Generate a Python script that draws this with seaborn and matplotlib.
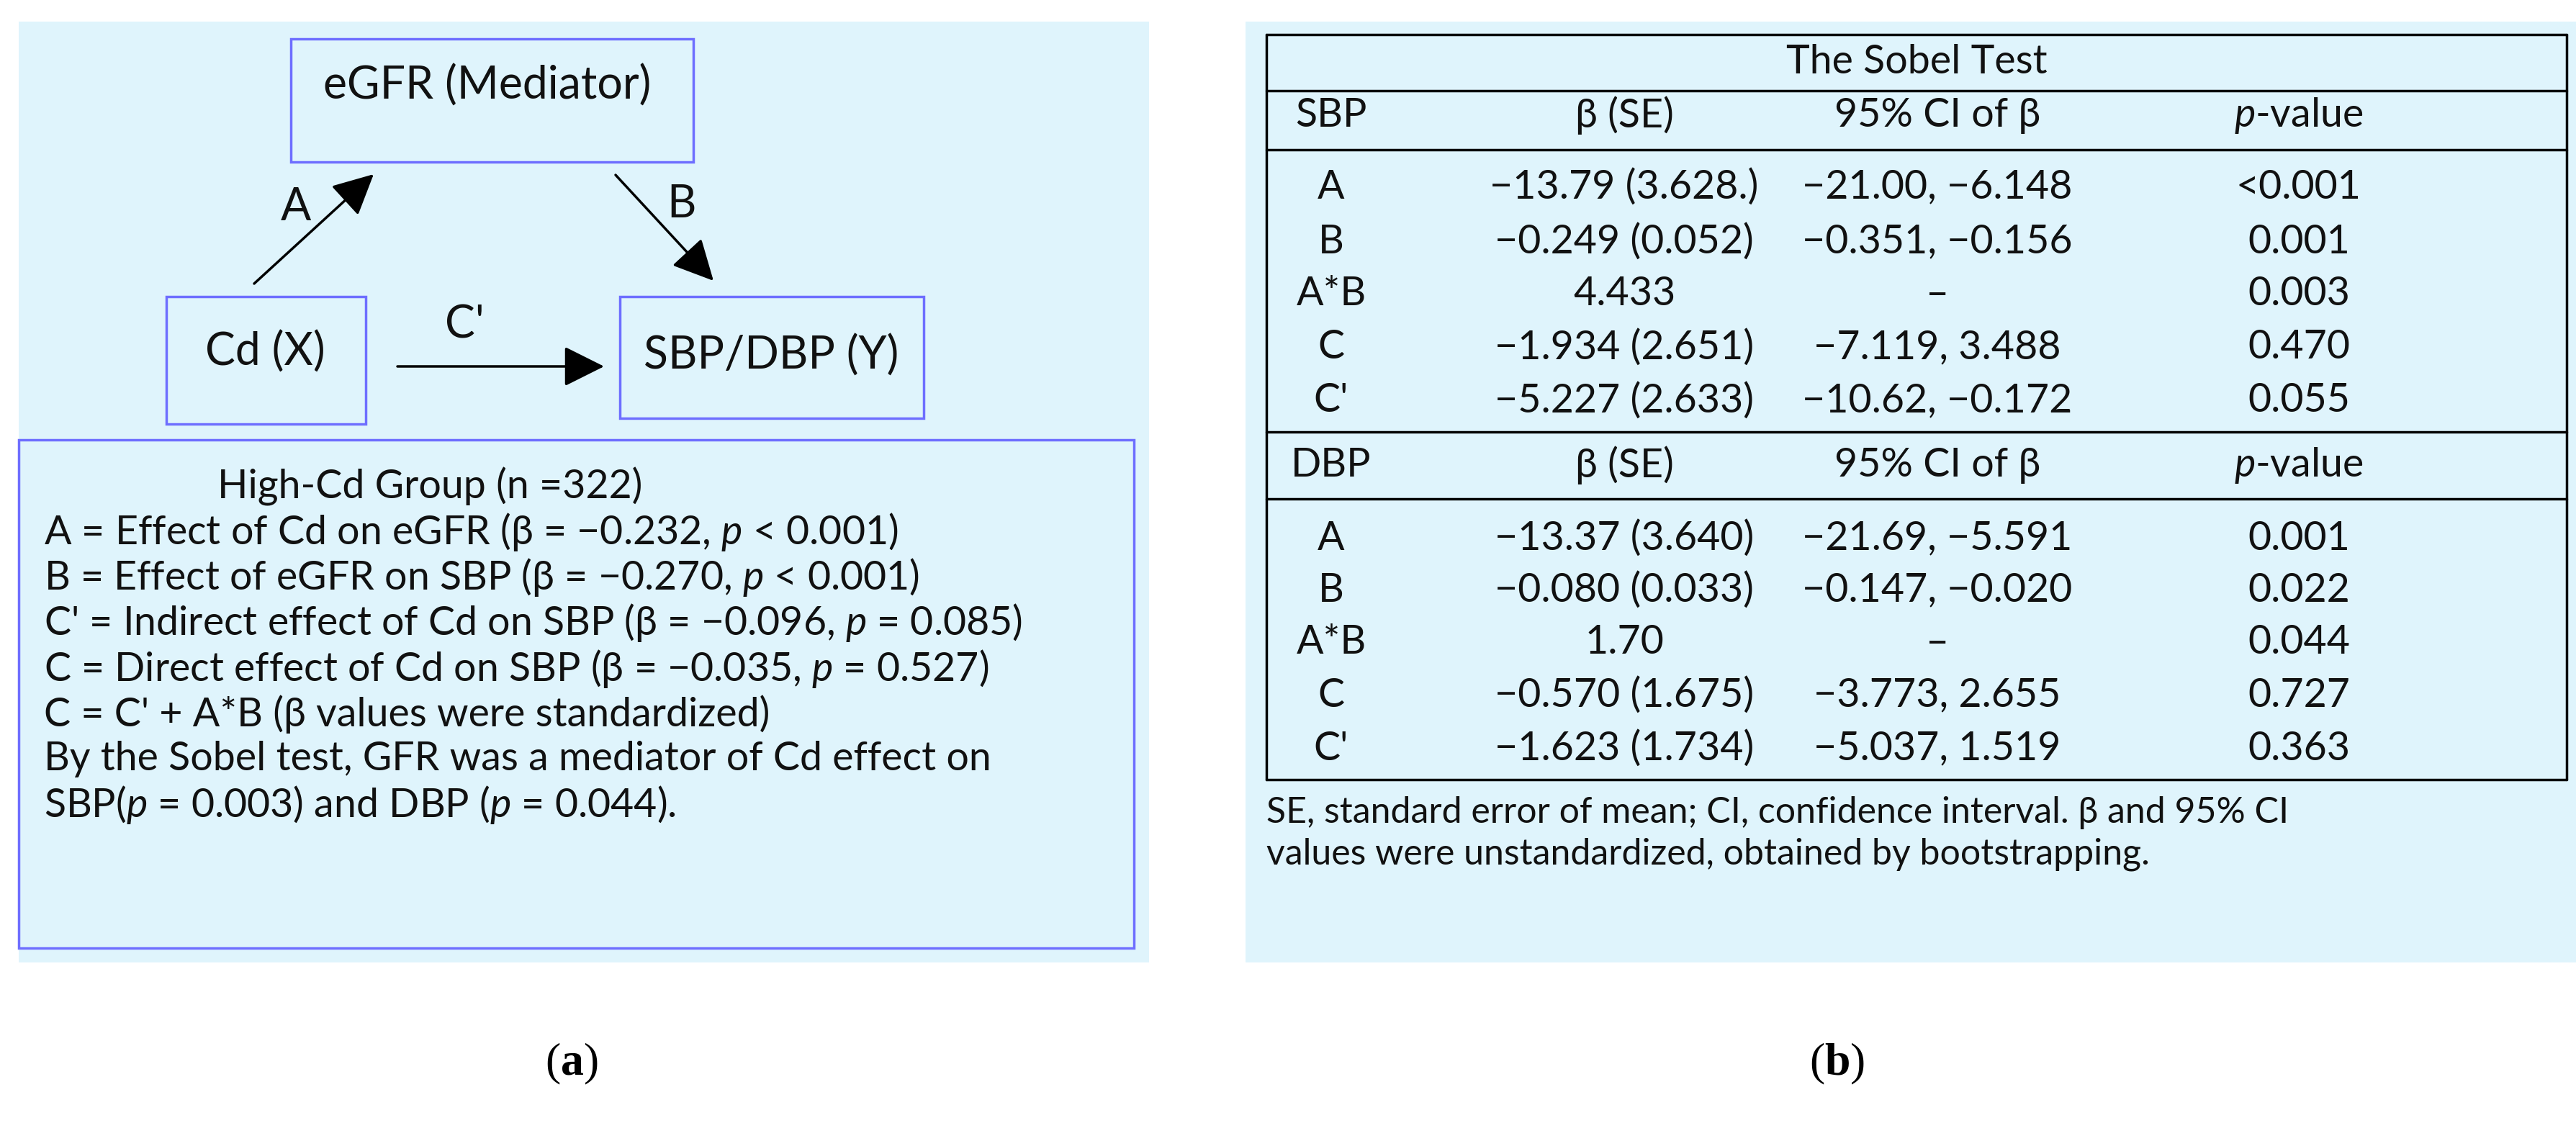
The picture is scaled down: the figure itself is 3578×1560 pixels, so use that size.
import matplotlib
matplotlib.use("Agg")
import matplotlib.pyplot as plt
import seaborn as sns
from matplotlib.patches import Rectangle, FancyArrowPatch

sns.set_theme(style="white")
plt.rcParams['font.family'] = ['Lato', 'DejaVu Sans']
plt.rcParams['mathtext.fontset'] = 'custom'
plt.rcParams['mathtext.rm'] = 'Lato'
plt.rcParams['mathtext.it'] = 'Lato:italic'
plt.rcParams['mathtext.bf'] = 'Liberation Serif:bold'

# ---- data ----
nodes = ["eGFR (Mediator)", "Cd (X)", "SBP/DBP (Y)"]
path_labels = ["A", "B", "C'"]
summary_title = "High-Cd Group (n =322)"
summary_lines = [
    "A = Effect of Cd on eGFR (β = −0.232, $p$ < 0.001)",
    "B = Effect of eGFR on SBP (β = −0.270, $p$ < 0.001)",
    "C' = Indirect effect of Cd on SBP (β = −0.096, $p$ = 0.085)",
    "C = Direct effect of Cd on SBP (β = −0.035, $p$ = 0.527)",
    "C = C' + A*B (β values were standardized)",
    "By the Sobel test, GFR was a mediator of Cd effect on",
    "SBP($p$ = 0.003) and DBP ($p$ = 0.044).",
]
table_title = "The Sobel Test"
effects = ["A", "B", "A*B", "C", "C'"]
sbp_beta = ["−13.79 (3.628.)", "−0.249 (0.052)", "4.433", "−1.934 (2.651)", "−5.227 (2.633)"]
sbp_ci = ["−21.00, −6.148", "−0.351, −0.156", "–", "−7.119, 3.488", "−10.62, −0.172"]
sbp_p = ["<0.001", "0.001", "0.003", "0.470", "0.055"]
dbp_beta = ["−13.37 (3.640)", "−0.080 (0.033)", "1.70", "−0.570 (1.675)", "−1.623 (1.734)"]
dbp_ci = ["−21.69, −5.591", "−0.147, −0.020", "–", "−3.773, 2.655", "−5.037, 1.519"]
dbp_p = ["0.001", "0.022", "0.044", "0.727", "0.363"]
footnote = ["SE, standard error of mean; CI, confidence interval. β and 95% CI",
            "values were unstandardized, obtained by bootstrapping."]

W, H = 3578, 1560
fig = plt.figure(figsize=(W/100, H/100), dpi=100)
ax = fig.add_axes([0, 0, 1, 1])
ax.set_xlim(0, W); ax.set_ylim(H, 0); ax.axis('off')

bg = "#DFF4FC"; edge = "#6E6EFF"
FS = 40
def rect(x0, y0, x1, y1, fc="none", ec=edge, lw=2.5):
    ax.add_patch(Rectangle((x0, y0), x1-x0, y1-y0, fc=fc, ec=ec, lw=lw))

# left panel
rect(26, 30, 1596, 1337, fc=bg, ec="none")
boxes = [(404, 54, 963, 225), (231, 412, 508, 589), (861, 412, 1283, 581)]
centers = [(677, 119), (368, 489), (1071, 494)]
for (x0, y0, x1, y1), (cx, cy), name in zip(boxes, centers, nodes):
    rect(x0, y0, x1, y1)
    ax.text(cx, cy, name, fontsize=45, ha='center', va='center', color='#111')
arrows = [((353, 394), (519, 242)), ((855, 243), (991, 390)), ((552, 509), (839, 509))]
for (s, e) in arrows:
    ax.add_patch(FancyArrowPatch(s, e, arrowstyle='-|>,head_length=1.4,head_width=0.7',
                                 mutation_scale=25, color='black', lw=2.5, shrinkA=0, shrinkB=0))
for (x, y), lab in zip([(411, 288), (946, 284), (645, 451)], path_labels):
    ax.text(x, y, lab, fontsize=45, ha='center', va='center', color='#111')
rect(26, 611, 1575, 1317)
ax.text(597, 676, summary_title, fontsize=FS, ha='center', va='center', color='#111')
for i, line in enumerate(summary_lines):
    ax.text(61, 739 + 63.2*i, line, fontsize=FS, ha='left', va='center', color='#111')
ax.text(794, 1478, "($\\mathbf{a}$)", fontsize=46, ha='center', va='center',
        family='Liberation Serif', color='black')

# right panel
rect(1730, 30, 3578, 1337, fc=bg, ec="none")
tx0, tx1 = 1759, 3565
for y in [48, 126, 208, 600, 693, 1083]:
    ax.plot([tx0, tx1], [y, y], color='black', lw=2.5)
for x in [tx0, tx1]:
    ax.plot([x, x], [48, 1083], color='black', lw=2.5)
cols = [1849, 2256, 2691, 3193]
ax.text((tx0+tx1)/2, 87, table_title, fontsize=FS, ha='center', va='center', color='#111')
def block(hy, label, rows_y, beta, ci, pv):
    for x, t in zip(cols, [label, "β (SE)", "95% CI of β", "$p$-value"]):
        ax.text(x, hy, t, fontsize=FS, ha='center', va='center', color='#111')
    for y, e, b, c, p in zip(rows_y, effects, beta, ci, pv):
        for x, t in zip(cols, [e, b, c, p]):
            ax.text(x, y, t, fontsize=FS, ha='center', va='center', color='#111')
block(160, "SBP", [260, 336, 409, 483, 557], sbp_beta, sbp_ci, sbp_p)
block(646, "DBP", [748, 820, 893, 966, 1040], dbp_beta, dbp_ci, dbp_p)
for i, line in enumerate(footnote):
    ax.text(tx0, 1129 + 58*i, line, fontsize=36, ha='left', va='center', color='#111')
ax.text(2552, 1478, "($\\mathbf{b}$)", fontsize=46, ha='center', va='center',
        family='Liberation Serif', color='black')

fig.savefig("out.png", dpi=100, facecolor='white')
